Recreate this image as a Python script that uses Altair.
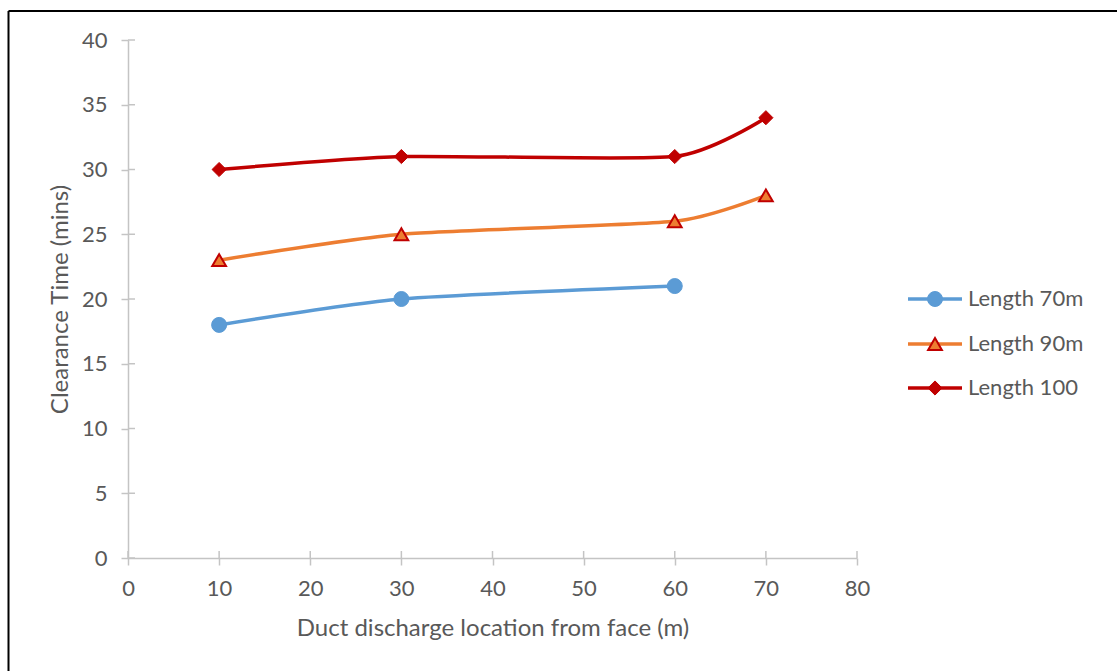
import altair as alt
import pandas as pd

# Clearance time (mins) against duct discharge location from face (m)
x_70 = [10, 30, 60]
y_70 = [18, 20, 21]
x_90 = [10, 30, 60, 70]
y_90 = [23, 25, 26, 28]
x_100 = [10, 30, 60, 70]
y_100 = [30, 31, 31, 34]

series_names = ["Length 70m", "Length 90m", "Length 100"]
line_colors = ["#5B9BD5", "#ED7D31", "#C00000"]
marker_fill = ["#5B9BD5", "#ED7D31", "#C00000"]
marker_stroke = ["#5B9BD5", "#C00000", "#C00000"]
marker_shapes = ["circle", "triangle-up", "diamond"]
marker_sizes = [225, 190, 200]

x_ticks = [0, 10, 20, 30, 40, 50, 60, 70, 80]
y_ticks = [0, 5, 10, 15, 20, 25, 30, 35, 40]

W, H = 729, 518
PAD = {"left": 128, "top": 40, "right": 1117 - 128 - W, "bottom": 671 - 40 - H}
FONT = "Lato"
TXT = "#595959"
GRID = "#c4c4c4"
LEGEND_ROWS = [259, 304, 348]

xs = alt.Scale(domain=[0, 80], nice=False)
ys = alt.Scale(domain=[0, 40], nice=False)

rows = []
for name, xv, yv in [(series_names[0], x_70, y_70),
                     (series_names[1], x_90, y_90),
                     (series_names[2], x_100, y_100)]:
    for a, b in zip(xv, yv):
        rows.append({"series": name, "x": a, "y": b})
df = pd.DataFrame(rows)

x_axis = alt.Axis(
    values=x_ticks, title="Duct discharge location from face (m)", grid=False,
    domainColor=GRID, domainWidth=1.5, tickColor=GRID, tickWidth=1.5, tickSize=7,
    labelFont=FONT, labelFontSize=22, labelColor=TXT, labelPadding=13, labelFlush=False,
    titleFont=FONT, titleFontSize=24, titleColor=TXT, titleFontWeight="normal",
    titleY=70, titleBaseline="middle")
y_axis = alt.Axis(
    values=y_ticks, title="Clearance Time (mins)", grid=False,
    domainColor=GRID, domainWidth=1.5, tickColor=GRID, tickWidth=1.5, tickSize=7,
    labelFont=FONT, labelFontSize=22, labelColor=TXT, labelPadding=14, labelFlush=False,
    titleFont=FONT, titleFontSize=24, titleColor=TXT, titleFontWeight="normal",
    titleX=-68, titleBaseline="middle")


def ex(field="x"):
    return alt.X(f"{field}:Q", scale=xs, axis=x_axis)


def ey(field="y"):
    return alt.Y(f"{field}:Q", scale=ys, axis=y_axis)


layers = []

# inner halves of the cross-shaped ticks
ytick_df = pd.DataFrame({"y": y_ticks})
xtick_df = pd.DataFrame({"x": x_ticks})
layers.append(alt.Chart(xtick_df).mark_rule(color=GRID, strokeWidth=1.5).encode(
    x=ex(), y=alt.value(H - 7), y2=alt.value(H)))
layers.append(alt.Chart(ytick_df).mark_rule(color=GRID, strokeWidth=1.5).encode(
    y=ey(), x=alt.value(0), x2=alt.value(7)))

for i, name in enumerate(series_names):
    sub = df[df.series == name]
    layers.append(alt.Chart(sub).mark_line(
        color=line_colors[i], strokeWidth=3.5, interpolate="cardinal", tension=0.4).encode(
        x=ex(), y=ey(), order="x:Q"))
    layers.append(alt.Chart(sub).mark_point(
        shape=marker_shapes[i], filled=True, fill=marker_fill[i], stroke=marker_stroke[i],
        strokeWidth=2 if i == 1 else 1, size=marker_sizes[i], opacity=1).encode(
        x=ex(), y=ey()))

# legend drawn as line + marker + label rows
leg = pd.DataFrame({"series": series_names})
for i, name in enumerate(series_names):
    sub = leg[leg.series == name]
    ry = LEGEND_ROWS[i]
    layers.append(alt.Chart(sub).mark_rule(color=line_colors[i], strokeWidth=3.5).encode(
        y=alt.value(ry), x=alt.value(780), x2=alt.value(834)))
    layers.append(alt.Chart(sub).mark_point(
        shape=marker_shapes[i], filled=True, fill=marker_fill[i], stroke=marker_stroke[i],
        strokeWidth=2 if i == 1 else 1, size=marker_sizes[i], opacity=1).encode(
        y=alt.value(ry), x=alt.value(807)))
    layers.append(alt.Chart(sub).mark_text(
        align="left", baseline="middle", font=FONT, fontSize=22, color=TXT).encode(
        y=alt.value(ry), x=alt.value(840), text="series:N"))

# outer frame (top and left edges)
frame = pd.DataFrame({"k": [0]})
layers.append(alt.Chart(frame).mark_rule(color="black", strokeWidth=2).encode(
    x=alt.value(-119.5), x2=alt.value(W + 300), y=alt.value(-29)))
layers.append(alt.Chart(frame).mark_rule(color="black", strokeWidth=2).encode(
    x=alt.value(-119.5), y=alt.value(-29), y2=alt.value(H + 200)))

chart = alt.layer(*layers).properties(
    width=W, height=H, padding=PAD, autosize=alt.AutoSizeParams(type="none"),
    background="white"
).configure_view(stroke=None)

chart.save("out.html", embed_options={"renderer": "svg", "actions": False})
